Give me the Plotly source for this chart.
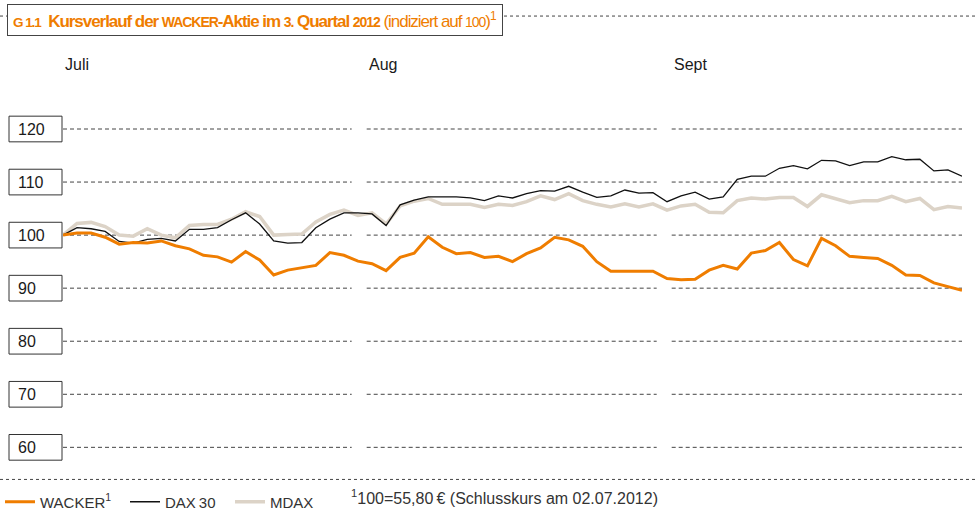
import plotly.graph_objects as go

# ---------------- data (index 100 = 02.07.2012), trading days Q3 2012 ----------------
wacker = [100, 100.4, 100.4, 99.6, 98.3, 98.6, 98.5, 98.9, 98.0, 97.4,
          96.2, 95.9, 94.9, 96.9, 95.3, 92.5, 93.4, 93.8, 94.3, 96.7,
          96.2, 95.1, 94.6, 93.3, 95.8, 96.6, 99.7, 97.7, 96.5, 96.7,
          95.8, 96.0, 95.0, 96.5, 97.6, 99.6, 99.1, 97.9, 95.0, 93.2,
          93.2, 93.3, 93.2, 91.8, 91.6, 91.7, 93.4, 94.3, 93.6, 96.6,
          97.1, 98.6, 95.4, 94.2, 99.4, 98.0, 96.0, 95.8, 95.6, 94.3,
          92.5, 92.4, 91.0, 90.3, 89.6]
dax30 = [100, 101.4, 101.2, 100.7, 98.8, 98.5, 99.2, 99.4, 98.9, 101.1,
         101.1, 101.4, 102.9, 104.2, 102.1, 98.9, 98.5, 98.6, 101.4, 103.0,
         104.2, 104.2, 104.0, 101.8, 105.7, 106.6, 107.2, 107.2, 107.2, 107.0,
         106.5, 107.4, 107.0, 107.8, 108.4, 108.3, 109.2, 108.1, 107.1, 107.4,
         108.5, 107.9, 108.0, 106.3, 107.4, 108.1, 106.8, 107.2, 110.5, 111.1,
         111.1, 112.6, 113.1, 112.5, 114.1, 114.0, 113.1, 113.8, 113.8, 114.8,
         114.2, 114.3, 112.1, 112.3, 111.1]
mdax = [100, 102.2, 102.4, 101.6, 100.0, 99.8, 101.2, 100.0, 99.5, 101.8,
        102.0, 102.0, 103.0, 104.4, 103.5, 100.0, 100.1, 100.2, 102.5, 103.9,
        104.7, 103.7, 104.2, 102.1, 105.5, 106.4, 106.9, 105.8, 105.8, 105.8,
        105.2, 105.8, 105.6, 106.3, 107.4, 106.7, 107.8, 106.5, 105.8, 105.3,
        105.9, 105.3, 105.9, 104.7, 105.5, 105.8, 104.3, 104.2, 106.5, 107.0,
        106.8, 107.1, 107.1, 105.4, 107.6, 106.8, 106.1, 106.5, 106.5, 107.3,
        106.3, 106.9, 104.8, 105.4, 105.1]
days = list(range(len(wacker)))

months = ["Juli", "Aug", "Sept"]
y_ticks = [120, 110, 100, 90, 80, 70, 60]

ORANGE = "#EF7D00"
BLACK = "#111111"
BEIGE = "#DCD3C7"
FONT = "Liberation Sans, Arial, sans-serif"

W, H = 976, 517
ML, MR, MT, MB = 63, 14, 103, 39
PW = W - ML - MR
PH = H - MT - MB


def px_x(p):
    return (p - ML) / PW


def px_y(p):
    return (H - MB - p) / PH


fig = go.Figure()
fig.add_trace(go.Scatter(x=days, y=mdax, mode="lines", name="MDAX",
                         line=dict(color=BEIGE, width=3.5), legendrank=3))
fig.add_trace(go.Scatter(x=days, y=dax30, mode="lines", name="DAX\u200930",
                         line=dict(color=BLACK, width=1.3), legendrank=2,
                         legendwidth=60))
fig.add_trace(go.Scatter(x=days, y=wacker, mode="lines", name="WACKER<sup>1</sup>",
                         line=dict(color=ORANGE, width=3), legendrank=1,
                         legendwidth=80))

shapes = []
segments = [(px_x(63), px_x(351.7)), (px_x(366.7), px_x(656.7)), (px_x(671.7), px_x(962))]
for v in y_ticks:
    for x0, x1 in segments:
        shapes.append(dict(type="line", xref="paper", yref="y", x0=x0, x1=x1, y0=v, y1=v,
                           line=dict(color="#444444", width=1, dash="4px,3px"), layer="below"))
    # boxed tick label frame
    shapes.append(dict(type="rect", xref="paper", yref="y", x0=px_x(9), x1=px_x(62),
                       y0=v - 2.42, y1=v + 2.42, line=dict(color="#333333", width=1),
                       fillcolor="white", layer="below"))

# top and bottom dashed rules
shapes.append(dict(type="line", xref="paper", yref="paper", x0=px_x(0), x1=px_x(976),
                   y0=px_y(15), y1=px_y(15), line=dict(color="#444444", width=1, dash="3px,3px")))
shapes.append(dict(type="line", xref="paper", yref="paper", x0=px_x(0), x1=px_x(976),
                   y0=px_y(484), y1=px_y(484), line=dict(color="#444444", width=1, dash="3px,3px")))

annotations = []
for v in y_ticks:
    annotations.append(dict(text=str(v), xref="paper", yref="y", x=px_x(16), y=v,
                            xanchor="left", yanchor="middle", showarrow=False,
                            font=dict(family=FONT, size=16, color="#1a1a1a")))

for name, p in zip(months, [63, 366.7, 671.7]):
    annotations.append(dict(text=name, xref="paper", yref="paper", x=px_x(p), y=px_y(64),
                            xanchor="left", yanchor="middle", showarrow=False,
                            font=dict(family=FONT, size=16, color="#1a1a1a")))

title_html = ("<span style='letter-spacing:-1.05px'>"
              "<b><span style='font-size:13.5px'>G 1.1</span>\u2002Kursverlauf der "
              "<span style='font-size:14px'>WACKER</span>-Aktie im "
              "<span style='font-size:14px'>3.</span> Quartal "
              "<span style='font-size:14px'>2012</span></b> (indiziert auf "
              "<span style='font-size:14px'>100</span>)<sup>1</sup></span>")
annotations.append(dict(text=title_html, xref="paper", yref="paper", x=px_x(7), y=px_y(19),
                        xanchor="left", yanchor="middle", showarrow=False,
                        height=20, align="left", valign="middle",
                        bgcolor="white", bordercolor="#444444", borderwidth=1, borderpad=5,
                        font=dict(family=FONT, size=17, color=ORANGE)))

annotations.append(dict(text="<sup>1</sup>100=55,80\u2009€ (Schlusskurs am 02.07.2012)",
                        xref="paper", yref="paper", x=px_x(349), y=px_y(502),
                        xanchor="left", yanchor="middle", showarrow=False,
                        font=dict(family=FONT, size=16, color="#333333")))

fig.update_layout(
    width=W, height=H,
    margin=dict(l=ML, r=MR, t=MT, b=MB),
    paper_bgcolor="white", plot_bgcolor="white",
    xaxis=dict(range=[0, len(days) - 1], showgrid=False, zeroline=False,
               showticklabels=False, showline=False, ticks=""),
    yaxis=dict(range=[55.07, 124.9], showgrid=False, zeroline=False,
               showticklabels=False, showline=False, ticks=""),
    showlegend=True,
    legend=dict(orientation="h", xref="container", yref="container", x=0.0, y=1 - 502 / H,
                xanchor="left", yanchor="middle", font=dict(family=FONT, size=15, color="#333333"),
                bgcolor="rgba(0,0,0,0)", traceorder="normal"),
    shapes=shapes,
    annotations=annotations,
)

fig.write_html("out.html", config={"displayModeBar": False},
               post_script="document.body.style.margin='0';")
